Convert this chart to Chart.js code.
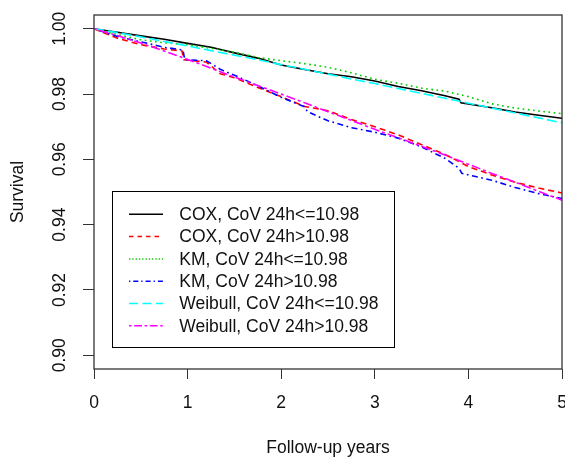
<!DOCTYPE html>
<html>
<head>
<meta charset="utf-8">
<script src="https://cdn.jsdelivr.net/npm/chart.js@4.4.1/dist/chart.umd.min.js"></script>
<style>
html, body { margin: 0; padding: 0; background: #fff; }
canvas { display: block; }
</style>
</head>
<body>
<canvas id="survivalChart" width="565" height="457"></canvas>
<script>
// values (years, survival probability)
var coxLowYears = [0, 0.25, 0.5, 0.75, 1, 1.25, 1.5, 1.75, 2, 2.25, 2.5, 2.75, 3, 3.25, 3.5, 3.75, 3.9, 3.92, 4.25, 4.5, 4.75, 5];
var coxLowSurv  = [1, 0.9989, 0.9978, 0.9968, 0.9955, 0.9943, 0.9926, 0.9910, 0.9889, 0.9875, 0.9862, 0.9853, 0.9840, 0.9823, 0.9810, 0.9795, 0.9784, 0.9773, 0.9758, 0.9745, 0.9735, 0.9726];

var coxHighYears = [0, 0.25, 0.5, 0.75, 0.94, 0.96, 1.2, 1.35, 1.5, 1.75, 2, 2.25, 2.5, 2.75, 3, 3.25, 3.5, 3.75, 4, 4.25, 4.5, 4.75, 5];
var coxHighSurv  = [1, 0.9971, 0.9951, 0.9938, 0.9932, 0.9905, 0.9898, 0.9862, 0.9850, 0.9820, 0.9792, 0.9762, 0.9749, 0.9722, 0.9700, 0.9675, 0.9645, 0.9615, 0.9578, 0.9552, 0.9530, 0.9512, 0.9497];

var kmLowYears = [0, 0.25, 0.5, 0.75, 1, 1.25, 1.5, 1.75, 2, 2.25, 2.5, 2.75, 3, 3.25, 3.5, 3.75, 4, 4.25, 4.5, 4.75, 5];
var kmLowSurv  = [1, 0.9982, 0.9966, 0.9957, 0.9951, 0.9940, 0.9928, 0.9912, 0.9902, 0.9893, 0.9882, 0.9865, 0.9845, 0.9833, 0.9818, 0.9809, 0.9792, 0.9770, 0.9757, 0.9748, 0.9740];

var kmHighYears = [0, 0.25, 0.5, 0.75, 0.95, 0.97, 1.2, 1.36, 1.54, 1.75, 2, 2.25, 2.28, 2.5, 2.75, 3, 3.25, 3.5, 3.75, 3.9, 3.93, 4.25, 4.5, 4.75, 5];
var kmHighSurv  = [1, 0.9976, 0.9960, 0.9943, 0.9935, 0.9905, 0.9902, 0.9874, 0.9853, 0.9825, 0.9790, 0.9761, 0.9746, 0.9718, 0.9697, 0.9683, 0.9665, 0.9638, 0.9603, 0.9573, 0.9557, 0.9536, 0.9514, 0.9495, 0.9480];

var weibullYears = [0, 0.25, 0.5, 0.75, 1, 1.25, 1.5, 1.75, 2, 2.25, 2.5, 2.75, 3, 3.25, 3.5, 3.75, 4, 4.25, 4.5, 4.75, 5];
var weibullLowSurv  = [1, 0.9988, 0.9975, 0.9961, 0.9947, 0.9933, 0.9919, 0.9905, 0.9890, 0.9876, 0.9861, 0.9846, 0.9832, 0.9817, 0.9802, 0.9787, 0.9772, 0.9757, 0.9742, 0.9727, 0.9712];
var weibullHighSurv = [1, 0.9979, 0.9956, 0.9932, 0.9906, 0.9879, 0.9852, 0.9826, 0.9800, 0.9773, 0.9746, 0.9719, 0.9692, 0.9666, 0.9640, 0.9613, 0.9585, 0.9557, 0.9530, 0.9502, 0.9475];

var seriesNames = ['COX, CoV 24h<=10.98', 'COX, CoV 24h>10.98', 'KM, CoV 24h<=10.98',
                   'KM, CoV 24h>10.98', 'Weibull, CoV 24h<=10.98', 'Weibull, CoV 24h>10.98'];
var xTicks = [0, 1, 2, 3, 4, 5];
var yTicks = [0.90, 0.92, 0.94, 0.96, 0.98, 1.00];

var FONT = '"Liberation Sans", Arial, sans-serif';

function toPoints(xs, ys) {
    return xs.map(function(x, i){ return {x: x, y: ys[i]}; });
}

function series(i, xs, ys, color, dash, legendDash, order){
    return {
        label: seriesNames[i],
        data: toPoints(xs, ys),
        borderColor: color,
        borderWidth: 1.6,
        borderDash: dash,
        legendDash: legendDash,
        pointRadius: 0,
        tension: 0,
        fill: false,
        order: order
    };
}

// R style legend box in the lower left of the plot region
var rLegend = {
    id: 'rLegend',
    afterDraw: function(chart){
        var ctx = chart.ctx;
        var area = chart.chartArea;
        var left = area.left + 18, top = area.top + 176;
        ctx.save();
        ctx.fillStyle = '#fff';
        ctx.fillRect(left, top, 282, 156);
        ctx.strokeStyle = '#000';
        ctx.lineWidth = 1;
        ctx.strokeRect(left + 0.5, top + 0.5, 282, 156);
        ctx.font = '17.5px ' + FONT;
        ctx.textBaseline = 'middle';
        chart.data.datasets.forEach(function(ds, i){
            var y = top + 23.3 + i * 22.3;
            ctx.strokeStyle = ds.borderColor;
            ctx.lineWidth = 1.5;
            ctx.setLineDash(ds.legendDash);
            ctx.beginPath();
            ctx.moveTo(left + 17, y);
            ctx.lineTo(left + 51, y);
            ctx.stroke();
            ctx.setLineDash([]);
            ctx.fillStyle = '#111';
            ctx.fillText(ds.label, left + 67.3, y + 1);
        });
        ctx.restore();
    }
};

var plotBox = {
    id: 'plotBox',
    afterDatasetsDraw: function(chart){
        var a = chart.chartArea, ctx = chart.ctx;
        ctx.save();
        ctx.strokeStyle = '#333';
        ctx.lineWidth = 1.3;
        ctx.strokeRect(a.left, a.top, a.right - a.left, a.bottom - a.top);
        ctx.restore();
    }
};

const CHART = document.getElementById('survivalChart');
let survivalChart = new Chart(CHART, {
    type: 'line',
    data: {
        datasets: [
            series(0, coxLowYears, coxLowSurv, '#000000', [], [], 6),
            series(1, coxHighYears, coxHighSurv, '#FF0000', [6, 4], [4.5, 4], 5),
            series(2, kmLowYears, kmLowSurv, '#00CD00', [1.7, 3.5], [1.3, 2], 4),
            series(3, kmHighYears, kmHighSurv, '#0000FF', [1.7, 3.5, 6, 3.5], [1.3, 3, 5, 3], 3),
            series(4, weibullYears, weibullLowSurv, '#00FFFF', [10, 4], [9, 4.5], 2),
            series(5, weibullYears, weibullHighSurv, '#FF00FF', [3, 3, 9, 3], [2.6, 2.6, 7.8, 2.6], 1)
        ]
    },
    options: {
        responsive: false,
        animation: false,
        events: [],
        layout: { padding: { top: 15, right: 3, left: 0, bottom: 0 } },
        plugins: { legend: { display: false }, tooltip: { enabled: false } },
        scales: {
            x: {
                type: 'linear',
                min: 0,
                max: 5,
                afterBuildTicks: function(s){ s.ticks = xTicks.map(function(v){ return {value: v}; }); },
                afterFit: function(s){ s.height = 88; s.paddingLeft = 0; s.paddingRight = 0; },
                border: { display: false },
                grid: { drawOnChartArea: false, drawTicks: true, tickLength: 10, color: '#333' },
                ticks: {
                    color: '#111',
                    padding: 14,
                    maxRotation: 0,
                    autoSkip: false,
                    font: { family: FONT, size: 17.5 },
                    callback: function(v){ return String(v); }
                },
                title: {
                    display: true,
                    text: 'Follow-up years',
                    color: '#111',
                    font: { family: FONT, size: 17.5 },
                    padding: { top: 0, bottom: -1.5 }
                }
            },
            y: {
                type: 'linear',
                min: 0.8958,
                max: 1.0042,
                afterBuildTicks: function(s){ s.ticks = yTicks.map(function(v){ return {value: v}; }); },
                afterFit: function(s){ s.width = 94; s.paddingTop = 0; s.paddingBottom = 0; },
                border: { display: false },
                grid: { drawOnChartArea: false, drawTicks: true, tickLength: 11, color: '#333' },
                ticks: {
                    color: '#111',
                    padding: 5.5,
                    minRotation: 90,
                    maxRotation: 90,
                    crossAlign: 'center',
                    autoSkip: false,
                    font: { family: FONT, size: 17.5 },
                    callback: function(v){ return v.toFixed(2); }
                },
                title: {
                    display: true,
                    text: 'Survival',
                    color: '#111',
                    font: { family: FONT, size: 17.5 },
                    padding: { top: 7.5, bottom: 0 }
                }
            }
        }
    },
    plugins: [plotBox, rLegend]
});
</script>
</body>
</html>
